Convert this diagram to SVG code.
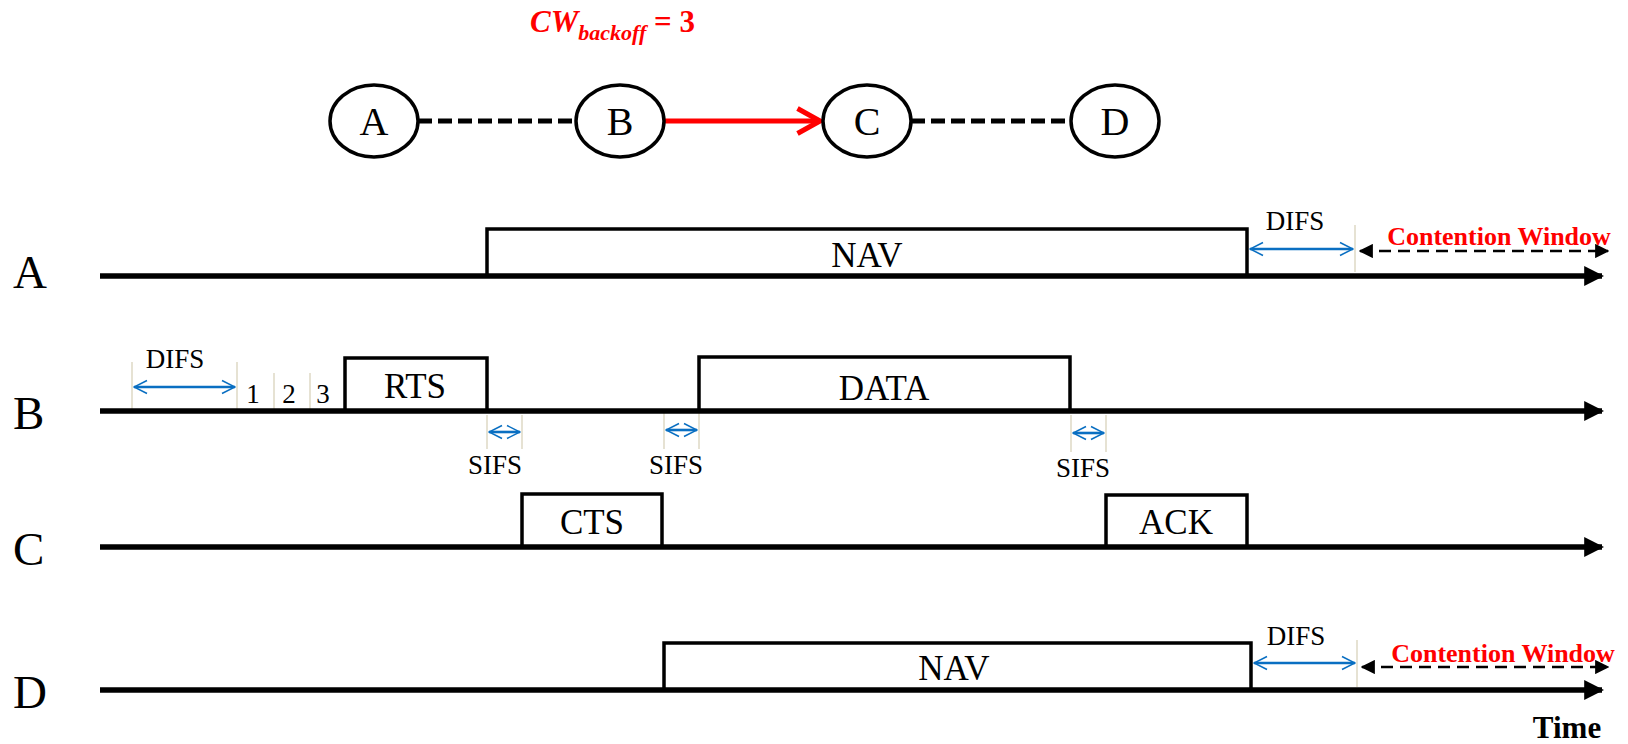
<svg xmlns="http://www.w3.org/2000/svg" width="1628" height="744" viewBox="0 0 1628 744">
<style>
.axis{stroke:#000;stroke-width:5.5;fill:none}
.box{stroke:#000;stroke-width:3.5;fill:#fff}
.tick{stroke:#e4dfcf;stroke-width:1.8;fill:none}
.blue{stroke:#0a6fc2;stroke-width:2.6;fill:none}
.cw{stroke:#000;stroke-width:2.6;stroke-dasharray:12 7;fill:none}
.lbl{font-family:"Liberation Serif","Times New Roman",serif;fill:#000}
.row{font-size:47px}
.bx{font-size:35px;text-anchor:middle}
.sm{font-size:27px;text-anchor:middle}
.red{font-family:"Liberation Serif","Times New Roman",serif;fill:#ff0000;font-weight:bold}
.node{stroke:#000;stroke-width:3.5;fill:#fff}
.dash{stroke:#000;stroke-width:5;stroke-dasharray:14 6;fill:none}
</style>
<defs>
<marker id="axh" viewBox="0 0 10 10" refX="9" refY="5" markerWidth="3.6" markerHeight="3.6" orient="auto" markerUnits="strokeWidth"><path d="M0,0 L10,5 L0,10 z" fill="#000"/></marker>
<marker id="cwh" viewBox="0 0 10 10" refX="9" refY="5" markerWidth="5.5" markerHeight="5.5" orient="auto-start-reverse" markerUnits="strokeWidth"><path d="M0,0 L10,5 L0,10 z" fill="#000"/></marker>
<marker id="bh" viewBox="0 0 12 12" refX="11" refY="6" markerWidth="6" markerHeight="6" orient="auto-start-reverse" markerUnits="strokeWidth"><path d="M1,1 L11,6 L1,11" fill="none" stroke="#0a6fc2" stroke-width="1.2"/></marker>
<marker id="rh" viewBox="0 0 12 12" refX="11" refY="6" markerWidth="6" markerHeight="6" orient="auto" markerUnits="strokeWidth"><path d="M2,1 L11,6 L2,11" fill="none" stroke="#ff0000" stroke-width="2"/></marker>
</defs>

<text class="red" x="530" y="32" font-style="italic" font-size="31">CW<tspan font-size="22" dy="8">backoff</tspan><tspan dy="-8" font-size="31" font-style="normal"> = 3</tspan></text>

<g id="connectors">
<line class="dash" x1="418" y1="121" x2="576" y2="121"/>
<line x1="664" y1="121" x2="820" y2="121" stroke="#ff0000" stroke-width="5" marker-end="url(#rh)"/>
<line class="dash" x1="911" y1="121" x2="1071" y2="121"/>
</g>
<g id="nodeA"><ellipse class="node" cx="374" cy="121" rx="44" ry="36"/><text class="lbl" x="374" y="135" font-size="40" text-anchor="middle">A</text></g>
<g id="nodeB"><ellipse class="node" cx="620" cy="121" rx="44" ry="36"/><text class="lbl" x="620" y="135" font-size="40" text-anchor="middle">B</text></g>
<g id="nodeC"><ellipse class="node" cx="867" cy="121" rx="44" ry="36"/><text class="lbl" x="867" y="135" font-size="40" text-anchor="middle">C</text></g>
<g id="nodeD"><ellipse class="node" cx="1115" cy="121" rx="44" ry="36"/><text class="lbl" x="1115" y="135" font-size="40" text-anchor="middle">D</text></g>

<!-- Row A -->
<g id="rowA">
<text class="lbl row" x="13" y="288">A</text>
<path class="box" d="M487,276 V229 H1247 V276"/>
<text class="lbl bx" x="867" y="267">NAV</text>
<line class="tick" x1="1355" y1="225" x2="1355" y2="272"/>
<line class="blue" x1="1250" y1="249" x2="1353" y2="249" marker-start="url(#bh)" marker-end="url(#bh)"/>
<text class="lbl sm" x="1295" y="230">DIFS</text>
<line class="cw" x1="1360" y1="251" x2="1608" y2="251" marker-start="url(#cwh)" marker-end="url(#cwh)"/>
<text class="red" x="1499" y="245" font-size="26" text-anchor="middle">Contention Window</text>
<line class="axis" x1="100" y1="276" x2="1602" y2="276" marker-end="url(#axh)"/>
</g>

<!-- Row B -->
<g id="rowB">
<text class="lbl row" x="13" y="429">B</text>
<line class="tick" x1="132" y1="362" x2="132" y2="409"/>
<line class="tick" x1="237" y1="362" x2="237" y2="409"/>
<line class="tick" x1="274" y1="373" x2="274" y2="409"/>
<line class="tick" x1="310" y1="373" x2="310" y2="409"/>
<line class="blue" x1="134" y1="387" x2="235" y2="387" marker-start="url(#bh)" marker-end="url(#bh)"/>
<text class="lbl sm" x="175" y="368">DIFS</text>
<text class="lbl sm" x="253" y="403">1</text>
<text class="lbl sm" x="289" y="403">2</text>
<text class="lbl sm" x="323" y="403">3</text>
<path class="box" d="M345,411 V358 H487 V411"/>
<text class="lbl bx" x="415" y="398">RTS</text>
<path class="box" d="M699,411 V357 H1070 V411"/>
<text class="lbl bx" x="884" y="400">DATA</text>
<line class="tick" x1="487" y1="415" x2="487" y2="449"/>
<line class="tick" x1="522" y1="415" x2="522" y2="449"/>
<line class="blue" x1="489" y1="432" x2="520" y2="432" marker-start="url(#bh)" marker-end="url(#bh)"/>
<text class="lbl sm" x="495" y="474">SIFS</text>
<line class="tick" x1="664" y1="413" x2="664" y2="449"/>
<line class="tick" x1="699" y1="413" x2="699" y2="449"/>
<line class="blue" x1="666" y1="430" x2="697" y2="430" marker-start="url(#bh)" marker-end="url(#bh)"/>
<text class="lbl sm" x="676" y="474">SIFS</text>
<line class="tick" x1="1071" y1="415" x2="1071" y2="452"/>
<line class="tick" x1="1106" y1="415" x2="1106" y2="452"/>
<line class="blue" x1="1073" y1="433" x2="1104" y2="433" marker-start="url(#bh)" marker-end="url(#bh)"/>
<text class="lbl sm" x="1083" y="477">SIFS</text>
<line class="axis" x1="100" y1="411" x2="1602" y2="411" marker-end="url(#axh)"/>
</g>

<!-- Row C -->
<g id="rowC">
<text class="lbl row" x="13" y="565">C</text>
<path class="box" d="M522,547 V494 H662 V547"/>
<text class="lbl bx" x="592" y="534">CTS</text>
<path class="box" d="M1106,547 V495 H1247 V547"/>
<text class="lbl bx" x="1176" y="534">ACK</text>
<line class="axis" x1="100" y1="547" x2="1602" y2="547" marker-end="url(#axh)"/>
</g>

<!-- Row D -->
<g id="rowD">
<text class="lbl row" x="13" y="708">D</text>
<path class="box" d="M664,690 V643 H1251 V690"/>
<text class="lbl bx" x="954" y="680">NAV</text>
<line class="tick" x1="1357" y1="640" x2="1357" y2="687"/>
<line class="blue" x1="1254" y1="663" x2="1355" y2="663" marker-start="url(#bh)" marker-end="url(#bh)"/>
<text class="lbl sm" x="1296" y="645">DIFS</text>
<line class="cw" x1="1362" y1="667" x2="1608" y2="667" marker-start="url(#cwh)" marker-end="url(#cwh)"/>
<text class="red" x="1503" y="662" font-size="26" text-anchor="middle">Contention Window</text>
<line class="axis" x1="100" y1="690" x2="1602" y2="690" marker-end="url(#axh)"/>
</g>

<text class="lbl" x="1567" y="738" font-size="31" font-weight="bold" text-anchor="middle">Time</text>
</svg>
